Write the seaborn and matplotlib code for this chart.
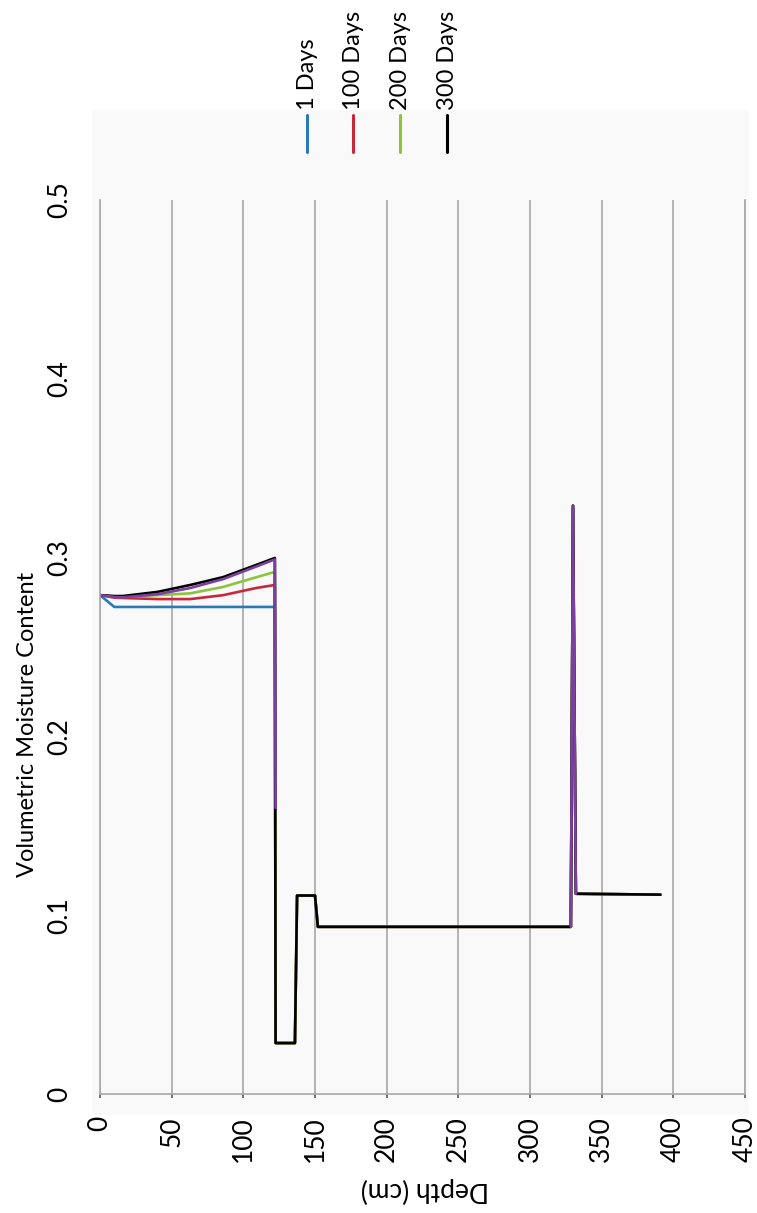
import numpy as np
import pandas as pd
import matplotlib
matplotlib.use("Agg")
import matplotlib.pyplot as plt
import seaborn as sns
from matplotlib.patches import Rectangle
from matplotlib.lines import Line2D

# ---------------- data ----------------
series_names = ["1 Days", "100 Days", "200 Days", "300 Days"]
series_colors = ["#2a7ab8", "#c8283c", "#8cc43c", "#000000"]
extra_color = "#7b3fa0"

top_depth = [0, 10, 16, 40, 63, 86, 109, 122]
top_1 = [0.279, 0.2724, 0.2724, 0.2724, 0.2724, 0.2724, 0.2724, 0.2724]
top_100 = [0.279, 0.2776, 0.2774, 0.2768, 0.2768, 0.2790, 0.2830, 0.2847]
top_200 = [0.279, 0.2782, 0.2780, 0.2790, 0.2800, 0.2836, 0.2890, 0.2920]
top_300 = [0.279, 0.2785, 0.2785, 0.2808, 0.2847, 0.2891, 0.2959, 0.2998]

low_depth = [122.5, 136, 137.5, 150, 152, 328.5, 330, 332, 391]
low_vmc = [0.0285, 0.0285, 0.111, 0.111, 0.0935, 0.0935, 0.329, 0.112, 0.1115]

extra_top = [0.279, 0.2780, 0.2778, 0.2795, 0.2830, 0.2880, 0.2950, 0.2990]
extra_drop_depth = [122.5]
extra_drop_vmc = [0.16]
spike_depth = [328.5, 330, 332]
spike_vmc = [0.0935, 0.329, 0.112]

depth_ticks = [0, 50, 100, 150, 200, 250, 300, 350, 400, 450]
vmc_ticks = [0, 0.1, 0.2, 0.3, 0.4, 0.5]
vmc_labels = ["0", "0.1", "0.2", "0.3", "0.4", "0.5"]

# ---------------- build tables ----------------
rows = []
for name, top in zip(series_names, [top_1, top_100, top_200, top_300]):
    d = list(top_depth) + list(low_depth)
    v = list(top) + list(low_vmc)
    for i, (a, b) in enumerate(zip(d, v)):
        rows.append({"series": name, "depth": a, "vmc": b, "i": i})
df = pd.DataFrame(rows)

xrows = []
seg_a_d = list(top_depth) + extra_drop_depth
seg_a_v = list(extra_top) + extra_drop_vmc
for i, (a, b) in enumerate(zip(seg_a_d, seg_a_v)):
    xrows.append({"seg": 0, "depth": a, "vmc": b, "i": i})
for i, (a, b) in enumerate(zip(spike_depth, spike_vmc)):
    xrows.append({"seg": 1, "depth": a, "vmc": b, "i": i})
dfx = pd.DataFrame(xrows)

# ---------------- figure ----------------
sns.set_theme(style="white")
plt.rcParams["font.family"] = ["Lato", "DejaVu Sans"]
plt.rcParams["text.color"] = "black"
plt.rcParams["xtick.color"] = "black"
plt.rcParams["ytick.color"] = "black"

W, H = 757, 1213
fig = plt.figure(figsize=(W / 100, H / 100), dpi=100)
fig.patch.set_facecolor("white")

# light panel behind the chart
fig.patches.append(Rectangle((92 / W, 1 - 1115 / H), (749 - 92) / W, (1115 - 110) / H,
                             transform=fig.transFigure, facecolor="#f9f9f9",
                             edgecolor="none", zorder=-10))

ax = fig.add_axes([100 / W, 1 - 1094 / H, 645 / W, 894 / H])
ax.set_facecolor("none")
ax.set_zorder(1)

sns.lineplot(data=df, x="depth", y="vmc", hue="series", hue_order=series_names,
             palette=series_colors, units="series", estimator=None, sort=False,
             linewidth=1.9, legend=False, ax=ax)
sns.lineplot(data=dfx, x="depth", y="vmc", units="seg", estimator=None, sort=False,
             color=extra_color, linewidth=1.9, legend=False, ax=ax)

ax.set_xlim(0, 450)
ax.set_ylim(0, 0.5)
ax.set_xticks(depth_ticks)
ax.set_xticklabels([str(t) for t in depth_ticks])
ax.set_yticks(vmc_ticks)
ax.set_yticklabels(vmc_labels)
ax.set_xlabel("")
ax.set_ylabel("")
ax.grid(axis="x", color="#a8a8a8", linewidth=1.2)
ax.grid(axis="y", visible=False)
ax.spines["top"].set_visible(False)
for s in ["left", "bottom", "right"]:
    ax.spines[s].set_color("#a8a8a8")
    ax.spines[s].set_linewidth(1.2)

ax.tick_params(axis="x", rotation=90, labelsize=19, pad=13, length=3,
               color="#606060", direction="out", bottom=True)
ax.tick_params(axis="y", rotation=90, labelsize=19, pad=20, length=0)
for t in ax.get_yticklabels():
    t.set_va("center")

fig.text(28 / W, 1 - 724 / H, "Volumetric Moisture Content", rotation=90,
         ha="center", va="center", fontsize=17)
fig.text(425 / W, 1 - 1190 / H, "Depth (cm)", rotation=180,
         ha="center", va="center", fontsize=19)

# legend (vertical entries at top)
leg_x = [307, 353, 400, 447]
for x, name, col in zip(leg_x, series_names, series_colors):
    fig.lines.append(Line2D([x / W, x / W], [1 - 115 / H, 1 - 152 / H],
                            transform=fig.transFigure, color=col, linewidth=2.2))
    fig.text(x / W, 1 - 110 / H, name, rotation=90, ha="center", va="bottom",
             fontsize=17)

fig.savefig("out.png", dpi=100)
